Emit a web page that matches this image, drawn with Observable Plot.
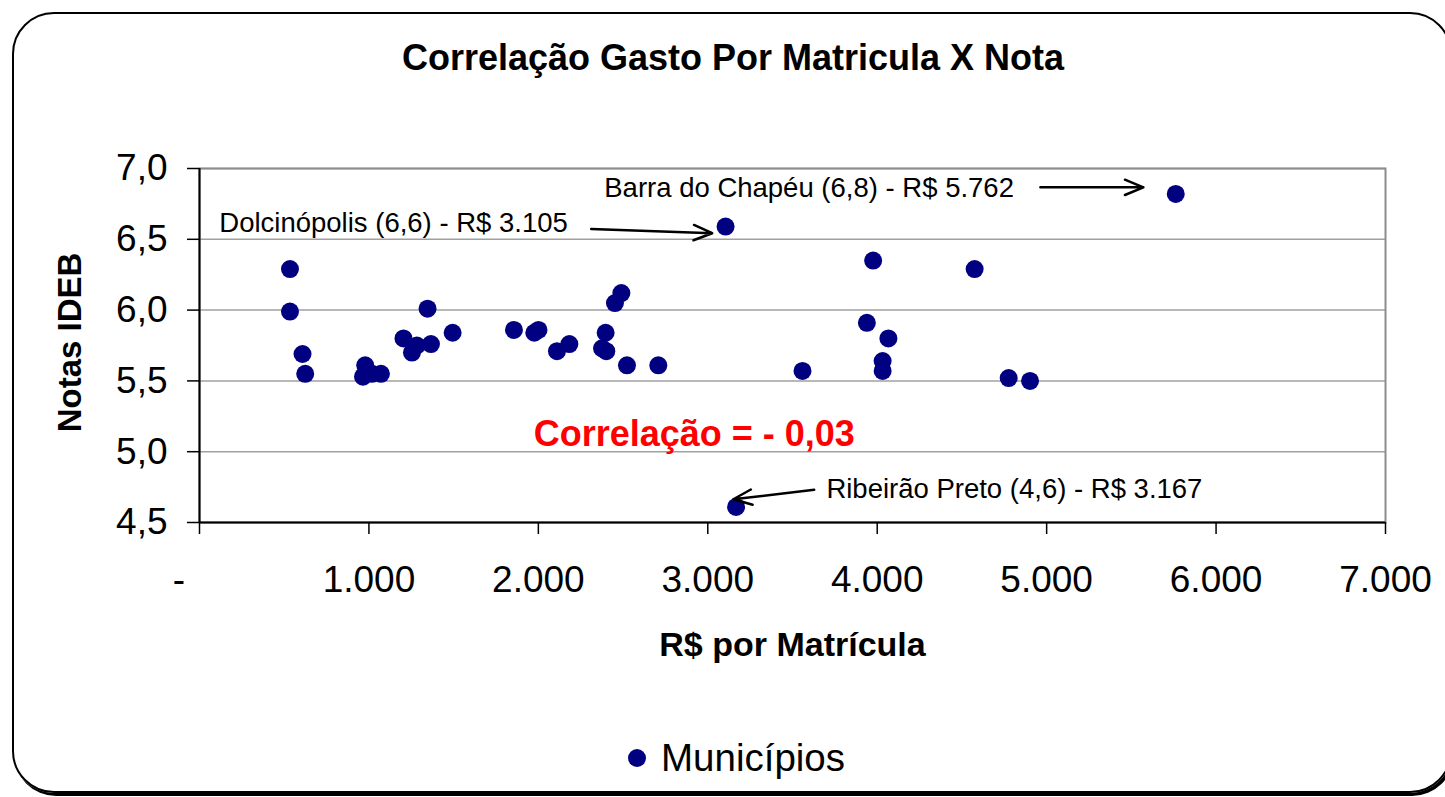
<!DOCTYPE html>
<html>
<head>
<meta charset="utf-8">
<script src="https://cdn.jsdelivr.net/npm/d3@7"></script>
<script src="https://cdn.jsdelivr.net/npm/@observablehq/plot@0.6"></script>
<style>
  html, body { margin: 0; padding: 0; width: 1445px; height: 797px; overflow: hidden; background: #fff; }
  body { font-family: "Liberation Sans", Arial, sans-serif; position: relative; }
  #box { position: absolute; left: 12px; top: 12px; width: 1440px; height: 781px; box-sizing: border-box;
         border: 2px solid #000; border-radius: 42px; box-shadow: 2px 3px 0 #000; }
  #title { position: absolute; left: 0; width: 1466px; top: 40px; text-align: center; font-size: 36px;
           font-weight: bold; line-height: 36px; color: #000; white-space: nowrap; }
  #chart { position: absolute; left: 0; top: 100px; }
  #legend { position: absolute; left: 627px; top: 739px; height: 38px; display: flex; align-items: center; }
  #legend span { font-size: 38.5px; line-height: 38px; color: #000; margin-left: 14px; }
</style>
</head>
<body>
<div id="box"></div>
<div id="title"></div>
<div id="chart"></div>
<div id="legend"></div>
<script>
// ---- data ----
const chartTitle = "Correlação Gasto Por Matricula X Nota";
const xTitle = "R$ por Matrícula";
const yTitle = "Notas IDEB";
const seriesName = "Municípios";
const corrLabel = "Correlação = - 0,03";

const gasto = [534, 534, 608, 624, 978, 965, 1018, 1071, 1204, 1254, 1283, 1346, 1366, 1494,
               1856, 1976, 2001, 2110, 2183, 2397, 2376, 2401, 2452, 2490, 2523, 2708,
               3105, 5762, 3976, 4575, 3939, 4066, 4032, 4032, 3559, 4776, 4902, 3167];
const nota  = [6.29, 5.99, 5.69, 5.55, 5.61, 5.53, 5.55, 5.55, 5.80, 5.70, 5.75, 6.01, 5.76, 5.84,
               5.86, 5.84, 5.86, 5.71, 5.76, 5.84, 5.73, 5.71, 6.05, 6.12, 5.61, 5.61,
               6.59, 6.82, 6.35, 6.29, 5.91, 5.80, 5.64, 5.57, 5.57, 5.52, 5.50, 4.61];

const xTicks = [0, 1000, 2000, 3000, 4000, 5000, 6000, 7000];
const yTicks = [4.5, 5.0, 5.5, 6.0, 6.5, 7.0];

// annotations (labels anchored in data units)
const annText = ["Barra do Chapéu (6,8) - R$ 5.762", "Dolcinópolis (6,6) - R$ 3.105", "Ribeirão Preto (4,6) - R$ 3.167"];
const annX = [2389, 117, 3700];
const annY = [6.798, 6.551, 4.675];
const arrX1 = [4963, 2312, 3628];
const arrY1 = [6.867, 6.572, 4.731];
const arrX2 = [5571, 3026, 3151];
const arrY2 = [6.867, 6.543, 4.664];
const corrX = [2920];
const corrY = [5.043];

// ---- build ----
const points = gasto.map((g, i) => ({gasto: g, nota: nota[i]}));
const anns = annText.map((t, i) => ({t, x: annX[i], y: annY[i]}));
const arrows = arrX1.map((_, i) => ({x1: arrX1[i], y1: arrY1[i], x2: arrX2[i], y2: arrY2[i]}));
const corr = [{t: corrLabel, x: corrX[0], y: corrY[0]}];

const fmtX = d => d === 0 ? "-\u00a0\u00a0\u00a0\u00a0" : d3.format(",")(d).replace(/,/g, ".");
const fmtY = d => d.toFixed(1).replace(".", ",");
const navy = "#000080";
const font = "'Liberation Sans', Arial, sans-serif";

document.getElementById("title").textContent = chartTitle;

const chart = Plot.plot({
  width: 1445,
  height: 580,
  marginLeft: 199,
  marginRight: 60,
  marginTop: 68,
  marginBottom: 158,
  x: {domain: [0, 7000]},
  y: {domain: [4.5, 7]},
  style: {fontFamily: font, background: "transparent", color: "#000", overflow: "visible"},
  marks: [
    Plot.gridY(yTicks, {stroke: "#a0a0a0", strokeOpacity: 1, strokeWidth: 1.5}),
    Plot.frame({stroke: "#8c8c8c", strokeWidth: 2}),
    Plot.ruleX([0], {stroke: "#000", strokeWidth: 2}),
    Plot.ruleY([4.5], {stroke: "#000", strokeWidth: 2}),
    Plot.axisY(yTicks, {tickSize: 12, tickPadding: 20, fontSize: 37, tickFormat: fmtY, label: null, strokeWidth: 1.5}),
    Plot.axisX(xTicks, {tickSize: 12, tickPadding: 31, fontSize: 37, tickFormat: fmtX, label: null, strokeWidth: 1.5}),
    Plot.text([yTitle], {frameAnchor: "left", dx: -129, dy: -3, rotate: -90, textAnchor: "middle", fontSize: 33, fontWeight: "bold", text: d => d, fill: "#000"}),
    Plot.text([xTitle], {frameAnchor: "bottom", dy: 133, lineAnchor: "bottom", textAnchor: "middle", fontSize: 34, fontWeight: "bold", text: d => d, fill: "#000"}),
    Plot.dot(points, {x: "gasto", y: "nota", r: 9, fill: navy, stroke: null}),
    Plot.arrow(arrows, {x1: "x1", y1: "y1", x2: "x2", y2: "y2", stroke: "#000", strokeWidth: 2.5, headLength: 12, headAngle: 45}),
    Plot.text(anns, {x: "x", y: "y", text: "t", textAnchor: "start", lineAnchor: "bottom", fontSize: 27.5, fill: "#000"}),
    Plot.text(corr, {x: "x", y: "y", text: "t", textAnchor: "middle", lineAnchor: "bottom", fontSize: 36, fontWeight: "bold", fill: "#ff0000"})
  ]
});
document.getElementById("chart").appendChild(chart);

// legend
const legend = document.getElementById("legend");
const sw = d3.create("svg").attr("width", 20).attr("height", 20);
sw.append("circle").attr("cx", 10).attr("cy", 10).attr("r", 9).attr("fill", navy);
legend.appendChild(sw.node());
const lab = document.createElement("span");
lab.textContent = seriesName;
legend.appendChild(lab);
</script>
</body>
</html>
